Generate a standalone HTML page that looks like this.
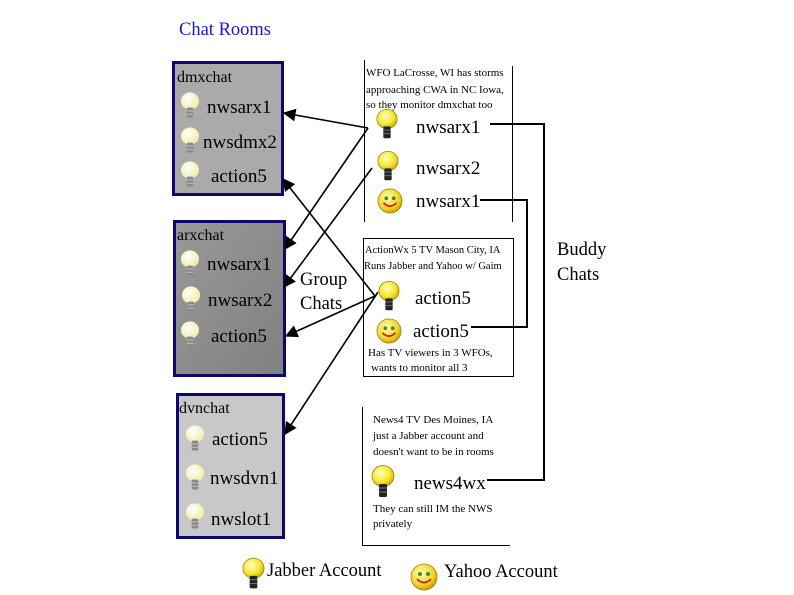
<!DOCTYPE html>
<html><head><meta charset="utf-8"><style>
html,body{margin:0;padding:0;background:#fff;}
svg{display:block;}
text{font-family:"Liberation Serif",serif;fill:#000;}
</style></head><body>
<svg width="794" height="595" viewBox="0 0 794 595" xmlns="http://www.w3.org/2000/svg">
<defs>
<radialGradient id="yb" cx="0.4" cy="0.35" r="0.7"><stop offset="0" stop-color="#ffffc0"/><stop offset="0.6" stop-color="#f5e830"/><stop offset="1" stop-color="#c8a800"/></radialGradient>
<radialGradient id="pb" cx="0.4" cy="0.35" r="0.7"><stop offset="0" stop-color="#ffffff"/><stop offset="1" stop-color="#f0eaa0"/></radialGradient>
<radialGradient id="sm" cx="0.4" cy="0.35" r="0.7"><stop offset="0" stop-color="#ffffb0"/><stop offset="0.7" stop-color="#f0d020"/><stop offset="1" stop-color="#c09000"/></radialGradient>
<linearGradient id="arx" x1="0" y1="0" x2="1" y2="1"><stop offset="0" stop-color="#999"/><stop offset="1" stop-color="#808080"/></linearGradient>
<symbol id="bulb" viewBox="0 0 24 34"><ellipse cx="12" cy="11" rx="11" ry="10.5" fill="url(#yb)" stroke="#a08000" stroke-width="0.8"/><rect x="8" y="19" width="8" height="13" rx="1.5" fill="#222"/><line x1="8" y1="23" x2="16" y2="23" stroke="#777"/><line x1="8" y1="27" x2="16" y2="27" stroke="#777"/></symbol>
<symbol id="pbulb" viewBox="0 0 24 34"><ellipse cx="12" cy="11" rx="11" ry="10.5" fill="url(#pb)"/><rect x="8" y="19" width="8" height="12" rx="1.5" fill="#888"/><line x1="8" y1="23" x2="16" y2="23" stroke="#ccc"/><line x1="8" y1="27" x2="16" y2="27" stroke="#ccc"/></symbol>
<symbol id="smile" viewBox="0 0 28 28"><circle cx="14" cy="14" r="13" fill="url(#sm)" stroke="#a08000" stroke-width="0.8"/><ellipse cx="10" cy="11" rx="2" ry="2" fill="#3a8a3a"/><ellipse cx="18" cy="11" rx="2" ry="2" fill="#3a8a3a"/><path d="M7 16 Q14 23 21 16" fill="none" stroke="#d02020" stroke-width="1.8"/></symbol>
<marker id="ah" viewBox="0 0 10 10" refX="9" refY="5" markerWidth="8" markerHeight="8" orient="auto"><path d="M0 0 L10 5 L0 10 z" fill="#000"/></marker>
</defs>

<text x="179" y="35" font-size="18.5" style="fill:#1a1ad0">Chat Rooms</text>

<rect x="173.5" y="62.5" width="109" height="132" fill="#aaaaaa" stroke="#0a0a6e" stroke-width="3"/>
<text x="177" y="82" font-size="16">dmxchat</text>
<use href="#pbulb" x="180" y="92" width="20" height="28"/><text x="207" y="113" font-size="19">nwsarx1</text>
<use href="#pbulb" x="180" y="127" width="20" height="28"/><text x="203" y="148" font-size="19">nwsdmx2</text>
<use href="#pbulb" x="180" y="161" width="20" height="28"/><text x="211" y="182" font-size="19">action5</text>

<rect x="174.5" y="221.5" width="110" height="154" fill="url(#arx)" stroke="#0a0a6e" stroke-width="3"/>
<text x="177" y="240" font-size="16">arxchat</text>
<use href="#pbulb" x="180" y="250" width="20" height="28"/><text x="207" y="270" font-size="19">nwsarx1</text>
<use href="#pbulb" x="181" y="286" width="20" height="28"/><text x="208" y="306" font-size="19">nwsarx2</text>
<use href="#pbulb" x="180" y="321" width="20" height="28"/><text x="211" y="342" font-size="19">action5</text>

<rect x="177.5" y="394.5" width="106" height="143" fill="#c8c8c8" stroke="#0a0a6e" stroke-width="3"/>
<text x="179" y="413" font-size="16">dvnchat</text>
<use href="#pbulb" x="185" y="425" width="20" height="28"/><text x="212" y="445" font-size="19">action5</text>
<use href="#pbulb" x="185" y="464" width="20" height="28"/><text x="210" y="484" font-size="19">nwsdvn1</text>
<use href="#pbulb" x="185" y="503" width="20" height="28"/><text x="211" y="525" font-size="19">nwslot1</text>

<g stroke="#000" stroke-width="1" fill="none">
<line x1="364.5" y1="60" x2="364.5" y2="222"/>
<line x1="512.5" y1="66" x2="512.5" y2="222"/>
<line x1="364" y1="238.5" x2="513" y2="238.5"/>
<line x1="363.5" y1="238" x2="363.5" y2="376"/>
<line x1="513.5" y1="238" x2="513.5" y2="376"/>
<line x1="363" y1="376.5" x2="514" y2="376.5"/>
<line x1="362.5" y1="407" x2="362.5" y2="545"/>
<line x1="362" y1="545.5" x2="510" y2="545.5"/>
</g>
<g font-size="11">
<text x="366" y="76">WFO LaCrosse, WI has storms</text>
<text x="366" y="93">approaching CWA in NC Iowa,</text>
<text x="366" y="108">so they monitor dmxchat too</text>
</g>
<use href="#bulb" x="376" y="108" width="22" height="33"/><text x="416" y="133" font-size="19">nwsarx1</text>
<use href="#bulb" x="377" y="150" width="22" height="33"/><text x="416" y="174" font-size="19">nwsarx2</text>
<use href="#smile" x="377" y="188" width="26" height="26"/><text x="416" y="207" font-size="19">nwsarx1</text>

<g font-size="10.5">
<text x="365" y="253">ActionWx 5 TV  Mason City, IA</text>
<text x="364" y="269">Runs Jabber and Yahoo w/ Gaim</text>
</g>
<use href="#bulb" x="378" y="280" width="22" height="33"/><text x="415" y="304" font-size="19">action5</text>
<use href="#smile" x="376" y="318" width="26" height="26"/><text x="413" y="337" font-size="19">action5</text>
<g font-size="11">
<text x="368" y="356">Has TV viewers in 3 WFOs,</text>
<text x="371" y="371">wants to monitor all 3</text>
</g>

<g font-size="11">
<text x="373" y="423">News4 TV Des Moines, IA</text>
<text x="373" y="439">just a Jabber account and</text>
<text x="373" y="455">doesn't  want to be in rooms</text>
</g>
<use href="#bulb" x="371" y="465" width="24" height="34"/><text x="414" y="489" font-size="19">news4wx</text>
<g font-size="11">
<text x="373" y="512">They can still IM the NWS</text>
<text x="373" y="527">privately</text>
</g>

<g stroke="#000" stroke-width="2" fill="none">
<polyline points="490,124 544,124 544,480 487,480"/>
<polyline points="480,200 527,200 527,327 471,327"/>
</g>
<text x="557" y="255" font-size="18.5">Buddy</text>
<text x="557" y="280" font-size="18.5">Chats</text>

<g stroke="#000" stroke-width="1.6" fill="none" marker-end="url(#ah)">
<line x1="368" y1="128" x2="284" y2="113"/>
<line x1="368" y1="128" x2="285" y2="249"/>
<line x1="372" y1="168" x2="284" y2="287"/>
<line x1="375" y1="296" x2="283" y2="179"/>
<line x1="375" y1="296" x2="286" y2="336"/>
<line x1="378" y1="292" x2="285" y2="434"/>
</g>
<text x="300" y="285" font-size="18.5">Group</text>
<text x="300" y="309" font-size="18.5">Chats</text>

<use href="#bulb" x="242" y="557" width="23" height="34"/><text x="267" y="576" font-size="18.5">Jabber Account</text>
<use href="#smile" x="410" y="563" width="28" height="28"/><text x="444" y="577" font-size="18.5">Yahoo Account</text>
</svg>
</body></html>
